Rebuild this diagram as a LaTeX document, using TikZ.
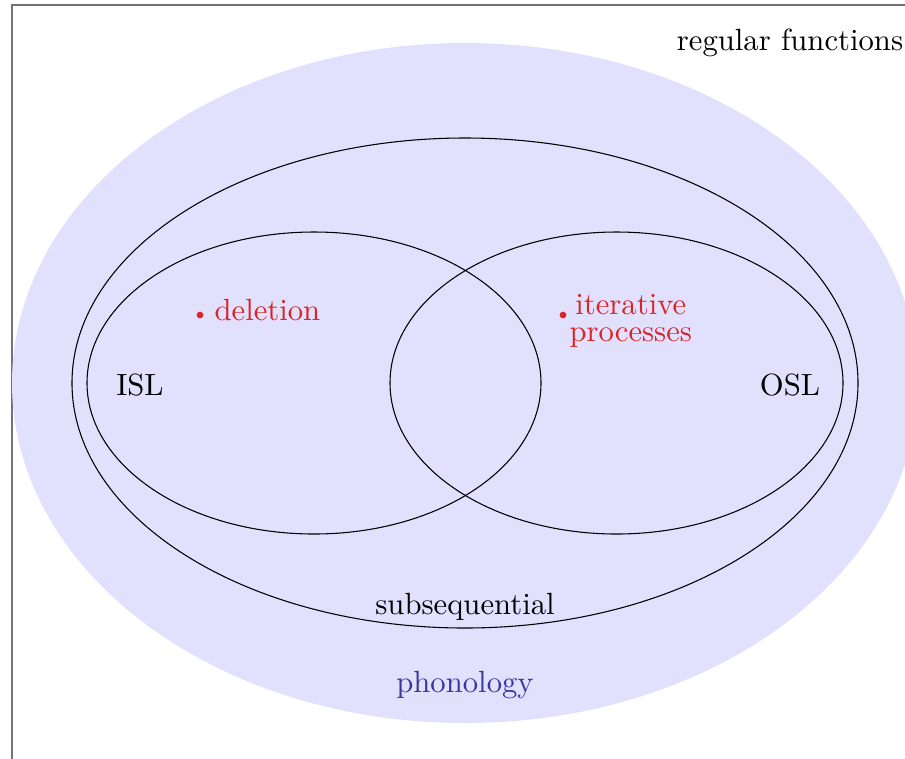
\documentclass[tikz,border=0pt]{standalone}
\usetikzlibrary{shapes.geometric}
\definecolor{phonofill}{RGB}{225,225,254}
\definecolor{phonotext}{RGB}{55,55,160}
\definecolor{procred}{RGB}{220,35,40}
\begin{document}
\begin{tikzpicture}[x=0.326pt,y=-0.326pt,
  setline/.style={draw=black,line width=0.35pt},
  proclabel/.style={text=procred,inner sep=0pt,align=center,font=\normalsize},
  procdot/.style={circle,fill=procred,inner sep=0pt,minimum size=2.2pt},
  classlabel/.style={inner sep=0pt}]
\useasboundingbox (0,0) rectangle (905,758);
\clip (0,0) rectangle (905,758);
% frame
\draw[gray!110,line width=0.6pt] (12,5) rectangle (1000,900);
% phonology region
\fill[phonofill] (465,383) ellipse [x radius=453, y radius=340];
% subsequential
\draw[setline] (465,383) ellipse [x radius=393, y radius=245];
% ISL / OSL
\draw[setline] (314,383) ellipse [x radius=227, y radius=151];
\draw[setline] (616.5,383) ellipse [x radius=226.5, y radius=151];
% labels
\node[classlabel] (reg) at (790,43) {regular functions};
\node[classlabel] (isl) at (140,385) {ISL};
\node[classlabel] (osl) at (790,385) {OSL};
\node[classlabel] (subseq) at (465,607) {subsequential};
\node[classlabel,text=phonotext] (phon) at (465,685) {phonology};
% processes
\node[procdot] (deldot) at (200,315) {};
\node[proclabel,anchor=west] (del) at (214,310) {deletion};
\node[procdot] (itdot) at (563,315) {};
\node[proclabel,anchor=west] (it) at (569,321) {iterative\\[-3pt]processes};
\end{tikzpicture}
\end{document}
